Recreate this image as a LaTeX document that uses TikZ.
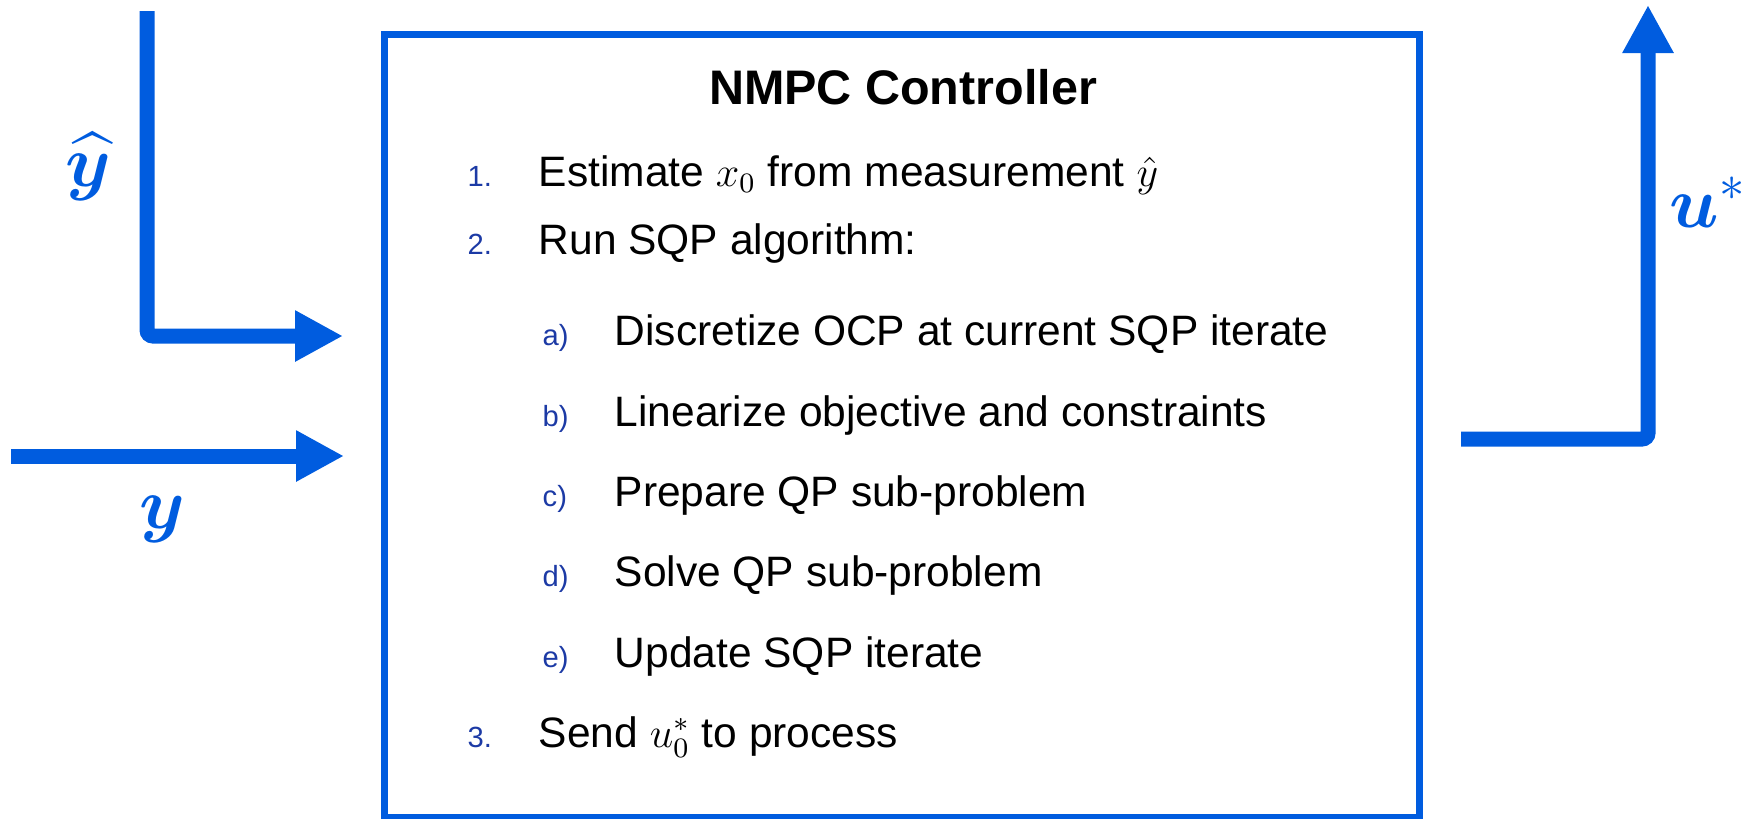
\documentclass[tikz,border=0pt]{standalone}
\usepackage{fontspec}
\setmainfont{Liberation Sans}
\usepackage{amsmath,bm}
\usepackage{xcolor}
\usepackage{tikz}
\usetikzlibrary{arrows.meta}
\definecolor{flowblue}{RGB}{0,92,223}
\definecolor{numblue}{RGB}{28,58,165}
\tikzset{
  ctrlbox/.style  = {draw=flowblue, line width=0.7mm},
  flow/.style     = {draw=flowblue, line width=1.5mm, rounded corners=0.6mm,
                     -{Triangle[length=4.8mm, width=4.8mm]}},
  hdr/.style      = {font=\fontsize{13.8}{16}\selectfont\bfseries, anchor=base, inner sep=0pt},
  itm/.style      = {font=\fontsize{12.1}{14}\selectfont, anchor=base west, inner sep=0pt},
  num/.style      = {font=\fontsize{8.3}{10}\selectfont, text=numblue, anchor=base west, inner sep=0pt},
  sig/.style      = {font=\fontsize{20}{24}\selectfont, text=flowblue, inner sep=0pt},
}

\begin{document}
\begin{tikzpicture}[x=0.1mm, y=-0.1mm]
  \useasboundingbox (0,0) rectangle (1748,818);

  % controller box
  \draw[ctrlbox] (384.5,34) rectangle (1419.5,817);
  \node[hdr] (title) at (903,104) {NMPC Controller};

  % main steps
  \foreach \n/\txt/\y in {%
    1/{Estimate $x_0$ from measurement $\hat{y}$}/186,
    2/{Run SQP algorithm:}/254,
    3/{Send $u_0^*$ to process}/747}
  {
    \node[num] (n\n) at (467,\y) {\n.};
    \node[itm] (s\n) at (538,\y) {\txt};
  }

  % SQP sub-steps
  \foreach \k/\txt/\y in {%
    a/{Discretize OCP at current SQP iterate}/345,
    b/{Linearize objective and constraints}/426,
    c/{Prepare QP sub-problem}/506,
    d/{Solve QP sub-problem}/586,
    e/{Update SQP iterate}/667}
  {
    \node[num] (l\k) at (542,\y) {\k)};
    \node[itm] (t\k) at (614,\y) {\txt};
  }

  % signals
  \coordinate (yhatsrc) at (147,11);
  \coordinate (yhatbend) at (147,336);
  \coordinate (yhatin) at (343,336);
  \coordinate (ysrc) at (11,456);
  \coordinate (yin) at (344,456);
  \coordinate (uout) at (1461,439);
  \coordinate (ubend) at (1648,439);
  \coordinate (udst) at (1648,5);

  \draw[flow] (yhatsrc) -- (yhatbend) -- (yhatin);
  \draw[flow] (ysrc) -- (yin);
  \draw[flow] (uout) -- (ubend) -- (udst);

  \node[sig] (yhatlbl) at (88,167) {$\bm{\widehat{y}}$};
  \node[sig] (ylbl) at (162,519) {$\bm{y}$};
  \node[sig] (ulbl) at (1708,202) {$\bm{u}^{*}$};
\end{tikzpicture}
\end{document}
